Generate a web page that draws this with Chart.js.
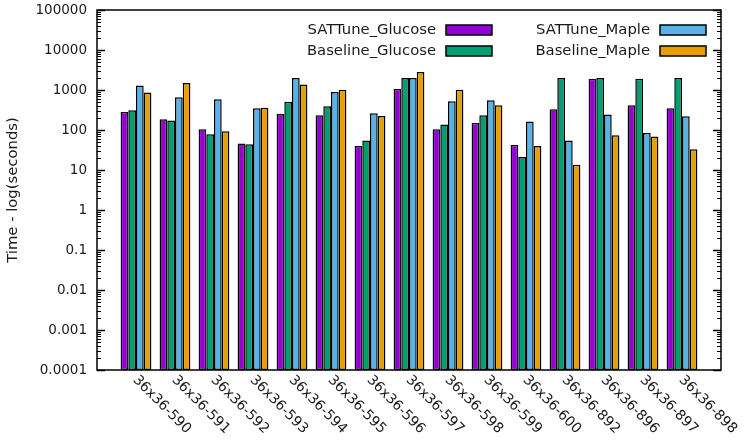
<!DOCTYPE html>
<html>
<head>
<meta charset="utf-8">
<script src="https://cdn.jsdelivr.net/npm/chart.js@4/dist/chart.umd.min.js"></script>
<style>
    html, body { margin: 0; padding: 0; background: #fff; }
    #wrap { width: 746px; height: 442px; }
</style>
</head>
<body>
<div id="wrap"><canvas id="timeChart" width="746" height="442"></canvas></div>
<script>
// Instances on the x axis
const categories = ['36x36-590', '36x36-591', '36x36-592', '36x36-593', '36x36-594',
    '36x36-595', '36x36-596', '36x36-597', '36x36-598', '36x36-599', '36x36-600',
    '36x36-892', '36x36-896', '36x36-897', '36x36-898'];

// Run time in seconds
const sattuneGlucose  = [282, 185, 104, 46, 250, 234, 40, 1060, 104, 150, 42, 330, 1880, 415, 350];
const baselineGlucose = [310, 174, 78, 44, 510, 390, 55, 2000, 138, 234, 21, 2000, 2000, 1900, 2000];
const sattuneMaple    = [1290, 660, 590, 350, 2000, 890, 262, 2000, 520, 555, 164, 55, 245, 84, 220];
const baselineMaple   = [870, 1500, 93, 360, 1380, 1020, 224, 2820, 1020, 415, 40, 13.5, 74, 69, 33];

// Y axis tick labels (log scale)
const yTickValues = [0.0001, 0.001, 0.01, 0.1, 1, 10, 100, 1000, 10000, 100000];
const yTickLabels = ['0.0001', '0.001', '0.01', '0.1', '1', '10', '100', '1000', '10000', '100000'];

const colors = {
    sattuneGlucose: '#9400d3',
    baselineGlucose: '#009e73',
    sattuneMaple: '#56b4e9',
    baselineMaple: '#e69f00'
};

const textColor = '#1a1a1a';
const fontFamily = "'DejaVu Sans', Verdana, sans-serif";

function toPoints(values) {
    return values.map((v, i) => ({ x: i, y: v }));
}

function makeDataset(label, values, color) {
    return {
        label: label,
        data: toPoints(values),
        backgroundColor: color,
        borderColor: '#000',
        borderWidth: 1.5,
        borderSkipped: false,
        categoryPercentage: 0.79,
        barPercentage: 1.0
    };
}

// Frame, inward tick marks, rotated x labels and the gnuplot-style key
const gnuplotDecor = {
    id: 'gnuplotDecor',
    afterDraw(chart) {
        const ctx = chart.ctx;
        const area = chart.chartArea;
        const yScale = chart.scales.y;
        const xScale = chart.scales.x;

        ctx.save();
        ctx.strokeStyle = '#000';

        // ticks on left and right borders
        for (let e = -4; e <= 5; e++) {
            for (let m = 1; m <= 9; m++) {
                const v = m * Math.pow(10, e);
                if (v > 100000) break;
                const py = Math.round(yScale.getPixelForValue(v)) + 0.5;
                const len = m === 1 ? 8 : 4;
                ctx.lineWidth = m === 1 ? 1.3 : 1;
                ctx.beginPath();
                ctx.moveTo(area.left, py);
                ctx.lineTo(area.left + len, py);
                ctx.moveTo(area.right, py);
                ctx.lineTo(area.right - len, py);
                ctx.stroke();
            }
        }

        // border
        ctx.lineWidth = 1.5;
        ctx.strokeRect(area.left, area.top, area.right - area.left, area.bottom - area.top);

        // rotated category labels
        ctx.fillStyle = textColor;
        ctx.font = '14px ' + fontFamily;
        ctx.textAlign = 'left';
        ctx.textBaseline = 'middle';
        categories.forEach((name, i) => {
            const px = xScale.getPixelForValue(i);
            ctx.save();
            ctx.translate(px - 1, area.bottom + 8);
            ctx.rotate(Math.PI / 4);
            ctx.fillText(name, 0, 0);
            ctx.restore();
        });

        // key: two columns, text right-aligned before the sample box
        const items = chart.data.datasets;
        const colRight = [area.right - 229, area.right - 15];
        const rowY = [area.top + 20, area.top + 41];
        ctx.font = '14.8px ' + fontFamily;
        ctx.textAlign = 'right';
        items.forEach((ds, i) => {
            const col = Math.floor(i / 2);
            const row = i % 2;
            const boxRight = colRight[col];
            const boxLeft = boxRight - 46;
            const cy = rowY[row];
            ctx.fillStyle = textColor;
            ctx.fillText(ds.label, boxLeft - 10, cy);
            ctx.fillStyle = ds.backgroundColor;
            ctx.fillRect(boxLeft, cy - 5, 46, 10);
            ctx.lineWidth = 1.5;
            ctx.strokeRect(boxLeft, cy - 5, 46, 10);
        });
        ctx.restore();
    }
};

const timeChart = new Chart(document.getElementById('timeChart'), {
    type: 'bar',
    data: {
        datasets: [
            makeDataset('SATTune_Glucose', sattuneGlucose, colors.sattuneGlucose),
            makeDataset('Baseline_Glucose', baselineGlucose, colors.baselineGlucose),
            makeDataset('SATTune_Maple', sattuneMaple, colors.sattuneMaple),
            makeDataset('Baseline_Maple', baselineMaple, colors.baselineMaple)
        ]
    },
    options: {
        responsive: false,
        animation: false,
        layout: {
            padding: { top: 10, right: 25, left: 0, bottom: 0 }
        },
        plugins: {
            legend: { display: false },
            tooltip: { enabled: false }
        },
        scales: {
            x: {
                type: 'linear',
                min: -1,
                max: 15,
                offset: false,
                grid: { display: false },
                border: { display: false },
                ticks: { display: false, stepSize: 1 },
                afterFit: function (scale) {
                    scale.height = 72;
                    scale.paddingLeft = 0;
                    scale.paddingRight = 0;
                }
            },
            y: {
                type: 'logarithmic',
                min: 0.0001,
                max: 100000,
                grid: { display: false, drawTicks: false },
                border: { display: false },
                afterBuildTicks: function (scale) {
                    scale.ticks = yTickValues.map(v => ({ value: v }));
                },
                ticks: {
                    autoSkip: false,
                    padding: 10,
                    color: textColor,
                    font: { family: fontFamily, size: 13.5 },
                    callback: function (value, index) {
                        return yTickLabels[index];
                    }
                },
                title: {
                    display: true,
                    text: 'Time - log(seconds)',
                    color: textColor,
                    font: { family: fontFamily, size: 14.8 },
                    padding: { top: 4, bottom: 0 }
                },
                afterFit: function (scale) {
                    scale.width = 97;
                    scale.paddingTop = 0;
                    scale.paddingBottom = 0;
                }
            }
        }
    },
    plugins: [gnuplotDecor]
});
</script>
</body>
</html>
